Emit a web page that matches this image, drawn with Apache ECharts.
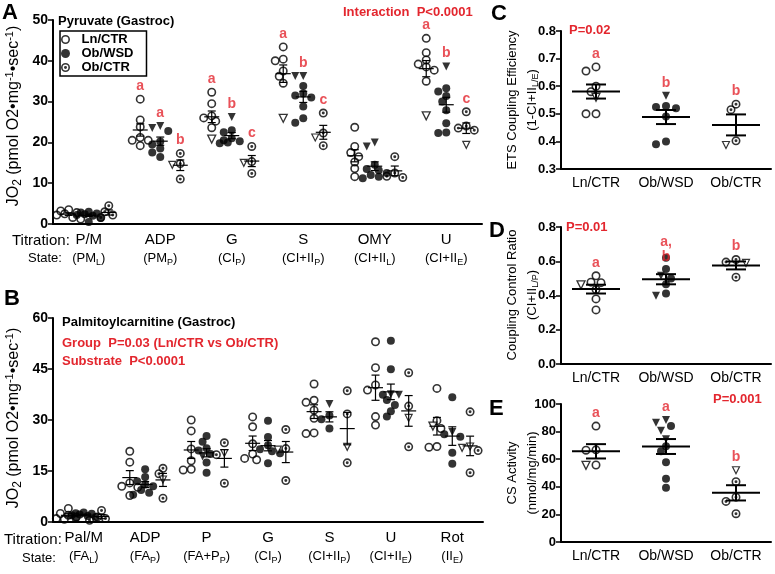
<!DOCTYPE html>
<html><head><meta charset="utf-8">
<script src="https://cdn.jsdelivr.net/npm/echarts@6/dist/echarts.min.js"></script>
<style>html,body{margin:0;padding:0;background:#fff}#c{width:775px;height:574px}</style>
</head><body><div id="c"></div>
<script>
const FONT = '"Liberation Sans", Arial, Helvetica, sans-serif';
const RED = '#e3262e';
const GROUPS = ['Ln/CTR', 'Ob/WSD', 'Ob/CTR'];

// ---------- Panel A: Pyruvate ----------
const A_titration = ['P/M', 'ADP', 'G', 'S', 'OMY', 'U'];
const A_state = ['PM', 'PM', 'CI', 'CI+II', 'CI+II', 'CI+II'];
const A_stateSub = ['L', 'P', 'P', 'P', 'L', 'E'];
const A_yMin = 0, A_yMax = 50, A_yStep = 10;
const A_ln = [
  [3.5, 3.2, 2.8, 2.5, 2.2, 1.6, 1.2],
  [30.6, 25.5, 23.8, 21.2, 20.5, 20.5, 19.2],
  [32.3, 29.5, 26.5, 26.0, 25.2, 23.6],
  [43.4, 40.4, 40.0, 37.5, 36.2, 34.5],
  [23.7, 19.0, 17.5, 16.5, 15.2, 13.6, 11.6],
  [45.5, 42.0, 40.2, 39.2, 38.5, 37.7, 35.0]
];
const A_lnTri = [[], [], [20.8], [25.9], [], [26.5]];
const A_wsd = [
  [3.0, 2.8, 2.6, 2.4, 2.2, 2.0, 1.5, 0.5],
  [22.8, 20.2, 19.5, 18.5, 17.5, 16.4],
  [23.0, 22.5, 21.0, 20.5, 20.3, 20.0, 19.8],
  [33.8, 32.0, 31.5, 31.0, 28.8, 25.9, 24.8],
  [14.5, 13.5, 13.2, 12.5, 12.0, 11.6, 11.2],
  [33.3, 32.5, 31.4, 30.0, 27.9, 24.7, 22.4, 22.3]
];
const A_wsdTri = [[], [24.0, 23.5], [26.2], [36.3, 36.3], [20.0, 19.0], [38.6]];
const A_ob = [
  [4.5, 3.0, 2.2, 1.6],
  [17.3, 14.8, 11.0],
  [19.0, 15.3, 12.4],
  [27.2, 22.3, 19.2],
  [16.5, 12.5, 11.7, 11.4],
  [27.5, 24.0, 23.5, 23.0]
];
const A_obTri = [[], [14.5], [15.0], [21.2], [], [19.4]];
const A_letters = [['', '', ''], ['a', 'a', 'b'], ['a', 'b', 'c'], ['a', 'b', 'c'], ['', '', ''], ['a', 'b', 'c']];

// ---------- Panel B: Palmitoylcarnitine ----------
const B_titration = ['Pal/M', 'ADP', 'P', 'G', 'S', 'U', 'Rot'];
const B_state = ['FA', 'FA', 'FA+P', 'CI', 'CI+II', 'CI+II', 'II'];
const B_stateSub = ['L', 'P', 'P', 'P', 'P', 'E', 'E'];
const B_yMin = 0, B_yMax = 60, B_yStep = 15;
const B_ln = [
  [4.0, 2.5, 2.0, 1.5, 1.0, 0.8],
  [20.8, 17.6, 11.5, 10.5, 10.2, 7.8],
  [30.0, 26.8, 21.5, 18.0, 15.5, 15.3],
  [30.9, 28.0, 23.0, 20.0, 18.7, 18.3],
  [40.6, 35.8, 35.2, 32.9, 30.5, 26.2, 26.0],
  [53.0, 45.4, 40.3, 38.8, 31.0, 28.5],
  [39.3, 29.8, 27.5, 22.2, 22.0]
];
const B_lnTri = [[], [], [], [], [], [], [28.2]];
const B_wsd = [
  [2.8, 2.6, 2.4, 2.2, 2.0, 1.8, 1.5, 1.0],
  [15.5, 13.2, 12.0, 11.0, 10.5, 9.4, 8.6, 8.0],
  [25.3, 23.6, 21.7, 21.0, 20.0, 17.5, 14.5],
  [29.8, 25.0, 22.6, 21.4, 20.8, 20.2, 17.3],
  [31.3, 30.2, 27.5],
  [53.3, 44.9, 37.4, 35.9, 34.4, 32.6, 31.0],
  [36.7, 25.8, 25.1, 20.4, 17.1]
];
const B_wsdTri = [[], [], [19.3], [], [34.7], [37.6, 37.4], [26.5]];
const B_ob = [
  [3.4, 1.5, 1.0, 0.5],
  [15.8, 14.2, 7.0],
  [23.3, 19.8, 11.4],
  [27.2, 21.6, 12.2],
  [38.6, 31.8, 17.4],
  [43.9, 34.1, 22.1],
  [32.4, 21.0, 14.5]
];
const B_obTri = [[], [12.5], [20.3], [21.3], [22.1], [30.6], [22.2, 21.8]];

// ---------- Panel C: ETS coupling efficiency ----------
const C_yMin = 0.3, C_yMax = 0.8, C_yStep = 0.1;
const C_vals = [[0.67, 0.655, 0.60, 0.58, 0.50, 0.50], [0.528, 0.525, 0.52, 0.49, 0.40, 0.39], [0.535, 0.515, 0.402]];
const C_tri = [[0.56], [0.565], [0.387]];
const C_letters = ['a', 'b', 'b'];

// ---------- Panel D: coupling control ratio ----------
const D_yMin = 0, D_yMax = 0.8, D_yStep = 0.2;
const D_vals = [[0.515, 0.478, 0.475, 0.435, 0.38, 0.316], [0.62, 0.555, 0.50, 0.465, 0.412], [0.61, 0.595, 0.507]];
const D_tri = [[0.462], [0.515, 0.398], [0.59]];
const D_letters = ['a', 'a,\nb', 'b'];

// ---------- Panel E: CS activity ----------
const E_yMin = 0, E_yMax = 100, E_yStep = 20;
const E_vals = [[84.0, 66.8, 66.5, 55.8], [84.0, 69.3, 65.7, 57.8, 45.8, 39.3], [43.7, 32.5, 29.4, 20.5]];
const E_tri = [[55.5], [88.4, 86.5, 80.7, 74.5], [52.0]];
const E_letters = ['a', 'a', 'b'];

// ---------- layout ----------
const LAYOUT = [
  { left: 53, top: 20, width: 429, height: 204 },
  { left: 53, top: 318, width: 430, height: 204 },
  { left: 561, top: 31, width: 210, height: 138 },
  { left: 561, top: 227, width: 210, height: 137 },
  { left: 561, top: 404, width: 210, height: 138 }
];

const RING = 'path://M0,-10A10,10,0,1,1,0,10A10,10,0,1,1,0,-10ZM0,-6.4A6.4,6.4,0,1,0,0,6.4A6.4,6.4,0,1,0,0,-6.4Z';
const RINGDOT = RING + 'M0,-3.3A3.3,3.3,0,1,1,0,3.3A3.3,3.3,0,1,1,0,-3.3Z';

function swarm(vals, yPx, diam, step, maxK) {
  const idx = vals.map((_, i) => i).sort((a, b) => vals[b].v - vals[a].v);
  const placed = [], out = [];
  idx.forEach(i => {
    const y = vals[i].v * yPx;
    let best = 0, bestD = -1;
    for (let k = 0; k <= 2 * maxK; k++) {
      const off = (k === 0 ? 0 : (k % 2 ? -1 : 1) * Math.ceil(k / 2)) * step;
      const d = placed.reduce((m, p) => Math.min(m, Math.hypot(p.x - off, p.y - y)), Infinity);
      if (d >= diam) { best = off; bestD = d; break; }
      if (d > bestD) { bestD = d; best = off; }
    }
    placed.push({ x: best, y });
    out[i] = best;
  });
  return out;
}

function buildPanel(gi, nCat, yRange, cells, cfg) {
  const L = LAYOUT[gi];
  const yPx = L.height / yRange, xPx = L.width / nCat;
  const circ = [[], [], []], tri = [[], [], []], err = [], lets = [];
  cells.forEach(cell => {
    const center = cell.cat + 0.5 + cell.off;
    const vals = cell.circles.map(v => ({ v, t: false })).concat(cell.tris.map(v => ({ v, t: true })));
    const xs = swarm(vals, yPx, cfg.diam, cfg.step, cfg.maxK);
    vals.forEach((d, i) => (d.t ? tri : circ)[cell.group].push([center + xs[i] / xPx, d.v]));
    const all = vals.map(d => d.v), n = all.length;
    const mean = all.reduce((a, b) => a + b, 0) / n;
    const sd = Math.sqrt(all.reduce((a, b) => a + (b - mean) * (b - mean), 0) / (n - 1));
    err.push([center, mean, sd / Math.sqrt(n)]);
    if (cell.letter) {
      const item = { value: [center, Math.max(...all)], name: cell.letter };
      if (cell.letter.indexOf('\n') >= 0) item.label = { offset: [0, 12] };
      lets.push(item);
    }
  });
  const xi = 2 * gi + 1, yi = gi;
  const base = { type: 'scatter', xAxisIndex: xi, yAxisIndex: yi, silent: true };
  const s = [];
  s.push(Object.assign({}, base, { name: 'Ln/CTR', symbol: RING, symbolSize: cfg.size, itemStyle: { color: '#000' }, data: circ[0], z: 3 }));
  s.push(Object.assign({}, base, { name: 'Ob/WSD', symbol: 'circle', symbolSize: cfg.size - 1, itemStyle: { color: '#000' }, data: circ[1], z: 3 }));
  s.push(Object.assign({}, base, { name: 'Ob/CTR', symbol: RINGDOT, symbolSize: cfg.size, itemStyle: { color: '#000' }, data: circ[2], z: 3 }));
  s.push(Object.assign({}, base, { name: 'tri0', symbol: 'triangle', symbolRotate: 180, symbolSize: cfg.size - 1, itemStyle: { color: '#fff', borderColor: '#000', borderWidth: 1.3 }, data: tri[0], z: 3 }));
  s.push(Object.assign({}, base, { name: 'tri1', symbol: 'triangle', symbolRotate: 180, symbolSize: cfg.size - 1, itemStyle: { color: '#000' }, data: tri[1], z: 3 }));
  s.push(Object.assign({}, base, { name: 'tri2', symbol: 'triangle', symbolRotate: 180, symbolSize: cfg.size - 2, itemStyle: { color: '#fff', borderColor: '#000', borderWidth: 1.2 }, data: tri[2], z: 3 }));
  s.push({
    type: 'custom', xAxisIndex: xi, yAxisIndex: yi, silent: true, z: 5, data: err,
    encode: { x: 0, y: 1 },
    renderItem: (p, api) => {
      const x = api.value(0), m = api.value(1), e = api.value(2);
      const c = api.coord([x, m]), t = api.coord([x, m + e]), b = api.coord([x, m - e]);
      const st = { stroke: '#000', lineWidth: cfg.lw };
      return {
        type: 'group', children: [
          { type: 'line', shape: { x1: c[0] - cfg.mh, y1: c[1], x2: c[0] + cfg.mh, y2: c[1] }, style: st },
          { type: 'line', shape: { x1: c[0], y1: t[1], x2: c[0], y2: b[1] }, style: st },
          { type: 'line', shape: { x1: c[0] - cfg.ch, y1: t[1], x2: c[0] + cfg.ch, y2: t[1] }, style: st },
          { type: 'line', shape: { x1: c[0] - cfg.ch, y1: b[1], x2: c[0] + cfg.ch, y2: b[1] }, style: st }
        ]
      };
    }
  });
  s.push(Object.assign({}, base, {
    name: 'letters', symbol: 'circle', symbolSize: 1, itemStyle: { color: 'rgba(0,0,0,0)' }, data: lets, z: 8, zlevel: 1,
    label: { show: true, position: 'top', distance: 5, formatter: '{b}', color: RED, fontWeight: 'bold', fontSize: 14, lineHeight: 15, fontFamily: FONT }
  }));
  return s;
}

function multiCells(nCat, sets, offsets, letters) {
  const cells = [];
  for (let c = 0; c < nCat; c++) for (let g = 0; g < 3; g++) {
    cells.push({ cat: c, group: g, off: offsets[g], circles: sets[g][0][c], tris: sets[g][1][c], letter: letters ? letters[c][g] : '' });
  }
  return cells;
}
function singleCells(vals, tris, letters) {
  return [0, 1, 2].map(g => ({ cat: g, group: g, off: 0, circles: vals[g], tris: tris[g], letter: letters[g] }));
}

const cfgSmall = { diam: 6.5, step: 4, maxK: 3, size: 9, lw: 1.2, mh: 7.5, ch: 4 };
const cfgBig = { diam: 7, step: 5, maxK: 3, size: 9, lw: 2, mh: 24, ch: 10 };

const series = [].concat(
  buildPanel(0, 6, A_yMax - A_yMin, multiCells(6, [[A_ln, A_lnTri], [A_wsd, A_wsdTri], [A_ob, A_obTri]], [-0.28, 0, 0.28], A_letters), cfgSmall),
  buildPanel(1, 7, B_yMax - B_yMin, multiCells(7, [[B_ln, B_lnTri], [B_wsd, B_wsdTri], [B_ob, B_obTri]], [-0.25, 0, 0.29], null), cfgSmall),
  buildPanel(2, 3, C_yMax - C_yMin, singleCells(C_vals, C_tri, C_letters), cfgBig),
  buildPanel(3, 3, D_yMax - D_yMin, singleCells(D_vals, D_tri, D_letters), cfgBig),
  buildPanel(4, 3, E_yMax - E_yMin, singleCells(E_vals, E_tri, E_letters), cfgBig)
);

const subRich = (t, s) => ({
  t: { fontSize: t, lineHeight: 18, fontFamily: FONT, color: '#000' },
  s: { fontSize: s, lineHeight: 18, fontFamily: FONT, color: '#000' },
  sub: { fontSize: s - 4, lineHeight: 11, verticalAlign: 'bottom', fontFamily: FONT, color: '#000' }
});

function catAxis(gi, cats, labelCfg) {
  return {
    type: 'category', gridIndex: gi, data: cats, boundaryGap: true,
    axisLine: { lineStyle: { color: '#000', width: 2 } },
    axisTick: { alignWithLabel: true, interval: 0, length: 5, lineStyle: { color: '#000', width: 1.5 } },
    axisLabel: Object.assign({ interval: 0, color: '#000', fontFamily: FONT }, labelCfg)
  };
}
function valX(gi, n) { return { type: 'value', gridIndex: gi, min: 0, max: n, show: false }; }
function yAx(gi, min, max, step, fmt, fs) {
  return {
    type: 'value', gridIndex: gi, min, max, interval: step,
    axisLine: { show: true, lineStyle: { color: '#000', width: 2 } },
    axisTick: { show: true, length: 5, lineStyle: { color: '#000', width: 1.5 } },
    splitLine: { show: false },
    axisLabel: { color: '#000', fontWeight: 'bold', fontSize: fs, fontFamily: FONT, margin: 5, formatter: fmt }
  };
}

const xAxis = [
  catAxis(0, A_titration, { margin: 7, formatter: (v, i) => `{t|${v}}\n{s|(${A_state[i]}}{sub|${A_stateSub[i]}}{s|)}`, rich: subRich(15, 13) }),
  valX(0, 6),
  catAxis(1, B_titration, { margin: 7, formatter: (v, i) => `{t|${v}}\n{s|(${B_state[i]}}{sub|${B_stateSub[i]}}{s|)}`, rich: subRich(15, 13) }),
  valX(1, 7),
  catAxis(2, GROUPS, { margin: 7, fontSize: 14 }), valX(2, 3),
  catAxis(3, GROUPS, { margin: 7, fontSize: 14 }), valX(3, 3),
  catAxis(4, GROUPS, { margin: 7, fontSize: 14 }), valX(4, 3)
];
const yAxis = [
  yAx(0, A_yMin, A_yMax, A_yStep, v => String(v), 14),
  yAx(1, B_yMin, B_yMax, B_yStep, v => String(v), 14),
  yAx(2, C_yMin, C_yMax, C_yStep, v => v.toFixed(1), 13),
  yAx(3, D_yMin, D_yMax, D_yStep, v => v.toFixed(1), 13),
  yAx(4, E_yMin, E_yMax, E_yStep, v => String(Math.round(v)), 13)
];

function T(x, y, text, o) {
  o = o || {};
  return {
    type: 'text', x, y, rotation: o.rot || 0, silent: true, z: 10,
    style: {
      text, fill: o.fill || '#000', fontSize: o.size || 13, fontWeight: o.weight || 'normal', fontFamily: FONT,
      align: o.align || 'left', verticalAlign: 'middle', rich: o.rich
    }
  };
}
const nameRich = (fs) => ({
  a: { fontSize: fs, lineHeight: fs + 4, fontFamily: FONT, fill: '#000', color: '#000' },
  s: { fontSize: fs - 4, lineHeight: fs - 3, verticalAlign: 'bottom', fontFamily: FONT, color: '#000' },
  p: { fontSize: fs - 5, lineHeight: fs - 3, verticalAlign: 'top', fontFamily: FONT, color: '#000' }
});
const JO2 = '{a|JO}{s|2}{a| (pmol O2•mg}{p|-1}{a|•sec}{p|-1}{a|)}';

const graphic = [
  T(2, 13, 'A', { size: 22, weight: 'bold' }),
  T(4, 299, 'B', { size: 22, weight: 'bold' }),
  T(491, 14, 'C', { size: 22, weight: 'bold' }),
  T(489, 231, 'D', { size: 22, weight: 'bold' }),
  T(489, 409, 'E', { size: 22, weight: 'bold' }),
  T(58, 21, 'Pyruvate (Gastroc)', { weight: 'bold' }),
  T(343, 12, 'Interaction  P<0.0001', { weight: 'bold', fill: RED }),
  T(62, 322, 'Palmitoylcarnitine (Gastroc)', { weight: 'bold' }),
  T(62, 343, 'Group  P=0.03 (Ln/CTR vs Ob/CTR)', { weight: 'bold', fill: RED }),
  T(62, 361, 'Substrate  P<0.0001', { weight: 'bold', fill: RED }),
  T(569, 30, 'P=0.02', { weight: 'bold', fill: RED }),
  T(566, 227, 'P=0.01', { weight: 'bold', fill: RED }),
  T(713, 399, 'P=0.001', { weight: 'bold', fill: RED }),
  T(12, 241, 'Titration:', { size: 15 }),
  T(28, 258, 'State:', { size: 13 }),
  T(4, 540, 'Titration:', { size: 15 }),
  T(22, 558, 'State:', { size: 13 }),
  T(14, 116, JO2, { rot: Math.PI / 2, align: 'center', rich: nameRich(16) }),
  T(14, 418, JO2, { rot: Math.PI / 2, align: 'center', rich: nameRich(16) }),
  T(512, 100, 'ETS Coupling Efficiency', { rot: Math.PI / 2, align: 'center' }),
  T(532, 100, '{a|(1-CI+II}{s|L/E}{a|)}', { rot: Math.PI / 2, align: 'center', rich: nameRich(13) }),
  T(512, 295, 'Coupling Control Ratio', { rot: Math.PI / 2, align: 'center' }),
  T(532, 295, '{a|(CI+II}{s|L/P}{a|)}', { rot: Math.PI / 2, align: 'center', rich: nameRich(13) }),
  T(512, 473, 'CS Activity', { rot: Math.PI / 2, align: 'center' }),
  T(532, 473, '(nmol/mg/min)', { rot: Math.PI / 2, align: 'center' })
];

const chart = echarts.init(document.getElementById('c'), null, { renderer: 'canvas' });
chart.setOption({
  backgroundColor: '#fff',
  animation: false,
  textStyle: { fontFamily: FONT },
  grid: LAYOUT.map(l => Object.assign({ containLabel: false }, l)),
  xAxis, yAxis,
  legend: {
    data: GROUPS, orient: 'vertical', left: 60, top: 31, padding: [2, 13, 2, 1], itemGap: 1,
    itemWidth: 22, itemHeight: 9, borderColor: '#000', borderWidth: 1.5, selectedMode: false,
    textStyle: { fontSize: 13, fontWeight: 'bold', fontFamily: FONT, color: '#000' }
  },
  series,
  graphic
});
</script></body></html>
